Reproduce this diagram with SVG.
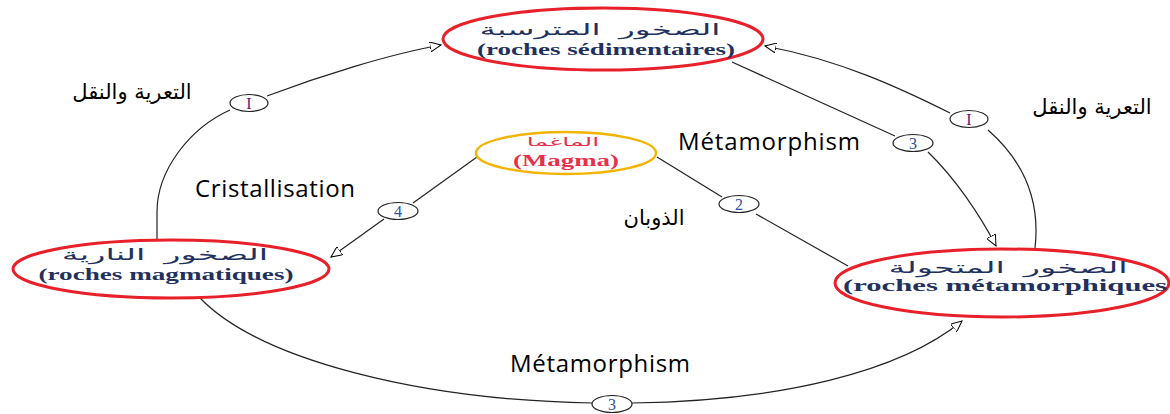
<svg xmlns="http://www.w3.org/2000/svg" width="1170" height="414" viewBox="0 0 1170 414">
<defs>
<marker id="arr" viewBox="0 0 12 10" refX="11" refY="5" markerWidth="12" markerHeight="10" markerUnits="userSpaceOnUse" orient="auto">
<path d="M0,0 L11,5 L0,10 Z" fill="#fff" stroke="#000" stroke-width="1"/>
</marker>
<style>
.rock{fill:#fff;stroke:#e8202a;stroke-width:3}
.magma{fill:#fff;stroke:#f2b400;stroke-width:2.5}
.ar{font-family:"Liberation Serif","DejaVu Sans",serif;font-size:16px;fill:#22305e;text-anchor:middle;word-spacing:5px}
.fr{font-family:"Liberation Serif",serif;font-size:16px;font-weight:bold;fill:#22305e;text-anchor:middle}
.conn{fill:none;stroke:#222;stroke-width:1.2}
.lab ellipse{fill:#fff;stroke:#222;stroke-width:1.2}
.lab text{font-family:"Liberation Serif",serif;font-size:16px;fill:#2b4fa0;text-anchor:middle}
.t1{font-family:"DejaVu Sans","Liberation Sans",sans-serif;font-size:21px;fill:#000;text-anchor:middle}
.t2{font-family:"Open Sans","Liberation Sans",sans-serif;font-size:24px;fill:#000}
</style>
</defs>
<rect width="1170" height="414" fill="#fff"/>

<g id="connectors">
<path class="conn" d="M157,240 L157,212 C157,170 190,128 230,110"/>
<path class="conn" d="M267,96 C320,76 390,54 441,45" marker-end="url(#arr)"/>
<path class="conn" d="M950,113 C900,88 840,60 765,46" marker-end="url(#arr)"/>
<path class="conn" d="M988,130 C1028,165 1040,205 1035,248"/>
<path class="conn" d="M732,62 L895,136"/>
<path class="conn" d="M928,152 C955,178 980,215 996,246" marker-end="url(#arr)"/>
<path class="conn" d="M657,157 L722,197"/>
<path class="conn" d="M756,214 L848,266"/>
<path class="conn" d="M477,157 L413,203"/>
<path class="conn" d="M384,219 L331,257" marker-end="url(#arr)"/>
<path class="conn" d="M200,298 C260,360 420,400 592,403"/>
<path class="conn" d="M632,403 C780,401 900,372 962,321" marker-end="url(#arr)"/>
</g>

<g id="label-1-left" class="lab"><ellipse cx="249" cy="103" rx="19" ry="8.5"/><text x="249" y="109" style="fill:#5a1a7a">I</text></g>
<g id="label-1-right" class="lab"><ellipse cx="969" cy="119" rx="19" ry="8.5"/><text x="969" y="125" style="fill:#5a1a7a">I</text></g>
<g id="label-3-top" class="lab"><ellipse cx="913" cy="143" rx="20" ry="8.5"/><text x="913" y="149">3</text></g>
<g id="label-2" class="lab"><ellipse cx="739" cy="204" rx="20" ry="8.5"/><text x="739" y="210">2</text></g>
<g id="label-4" class="lab"><ellipse cx="398" cy="211" rx="20" ry="8.5"/><text x="398" y="217">4</text></g>
<g id="label-3-bottom" class="lab"><ellipse cx="612" cy="404" rx="20" ry="8.5"/><text x="612" y="410">3</text></g>

<g id="node-sedimentary">
<ellipse class="rock" cx="603" cy="39" rx="160" ry="31"/>
<text class="ar" transform="translate(600,35) scale(2.05,1)">الصخور المترسبة</text>
<text class="fr" x="606" y="55" textLength="258" lengthAdjust="spacingAndGlyphs">(roches sédimentaires)</text>
</g>
<g id="node-magmatic">
<ellipse class="rock" cx="171" cy="269" rx="158" ry="29"/>
<text class="ar" transform="translate(165,260) scale(2.1,1)">الصخور النارية</text>
<text class="fr" x="166" y="280" textLength="255" lengthAdjust="spacingAndGlyphs">(roches magmatiques)</text>
</g>
<g id="node-metamorphic">
<ellipse class="rock" cx="1002" cy="283" rx="167" ry="34"/>
<text class="ar" transform="translate(1008,273) scale(2.1,1)">الصخور المتحولة</text>
<text class="fr" x="1005" y="291" textLength="324" lengthAdjust="spacingAndGlyphs">(roches métamorphiques</text>
</g>
<g id="node-magma">
<ellipse class="magma" cx="566" cy="153" rx="90" ry="21"/>
<text transform="translate(563,146) scale(2.1,1)" font-family="Liberation Serif, DejaVu Sans, serif" font-size="12" fill="#e8304a" text-anchor="middle">الماغما</text>
<text x="566" y="166" font-family="Liberation Serif, serif" font-size="16" font-weight="bold" fill="#e8304a" text-anchor="middle" textLength="106" lengthAdjust="spacingAndGlyphs">(Magma)</text>
</g>

<g id="texts">
<text class="t1" x="132" y="99">التعرية والنقل</text>
<text class="t1" x="1092" y="114">التعرية والنقل</text>
<text class="t2" x="678" y="150" textLength="182">Métamorphism</text>
<text class="t2" x="195" y="197" textLength="160">Cristallisation</text>
<text class="t1" x="654" y="225">الذوبان</text>
<text class="t2" x="510" y="372" textLength="180">Métamorphism</text>
</g>
</svg>
